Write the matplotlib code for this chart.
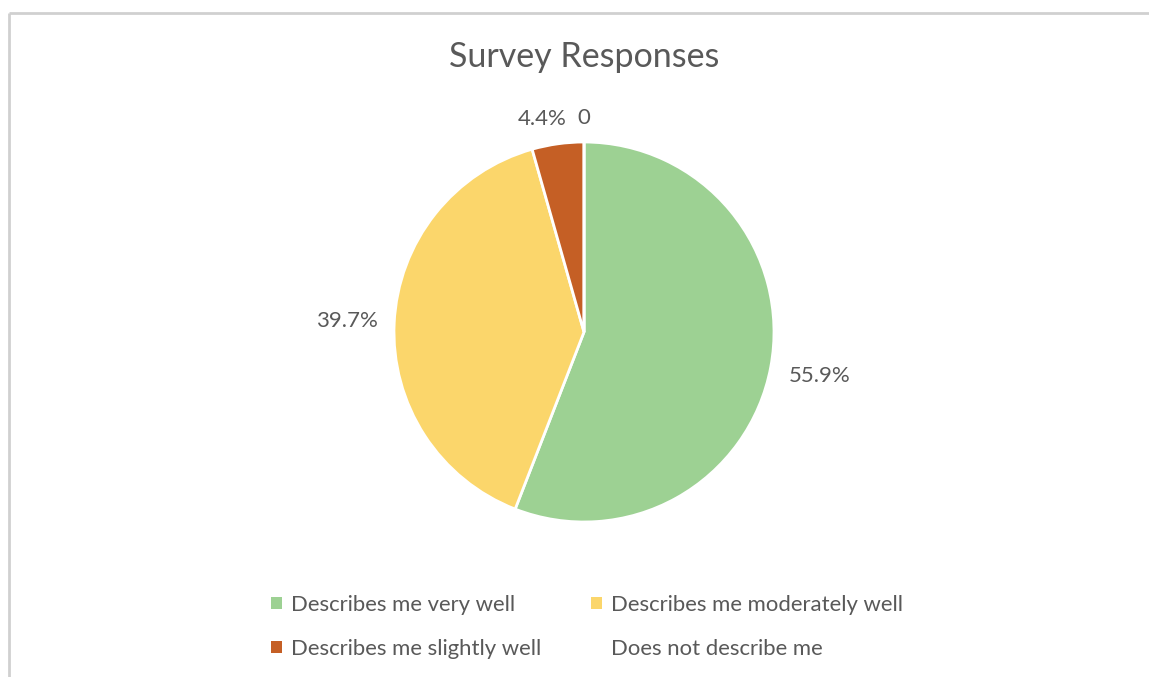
import matplotlib
matplotlib.use("Agg")
import matplotlib.pyplot as plt
from matplotlib.patches import Patch
from matplotlib.lines import Line2D
import numpy as np

categories = ["Describes me very well", "Describes me moderately well",
              "Describes me slightly well", "Does not describe me"]
values = [55.9, 39.7, 4.4, 0.0]
value_labels = ["55.9%", "39.7%", "4.4%", "0"]
colors = ["#9DD193", "#FBD66B", "#C55F25", "#FFFFFF"]
title = "Survey Responses"

plt.rcParams['font.family'] = ['Lato', 'DejaVu Sans']
text_color = "#595959"

W, H = 1149, 677
fig = plt.figure(figsize=(W / 100, H / 100), dpi=100)
fig.patch.set_facecolor("white")

# chart border (top and left visible, continues past the image edges)
by = 1 - 12.5 / H
bx = 8.5 / W
fig.lines.append(Line2D([bx, 1.0], [by, by], transform=fig.transFigure,
                        color="#D0D0D0", linewidth=2, solid_capstyle="butt"))
fig.lines.append(Line2D([bx, bx], [by, 0.0], transform=fig.transFigure,
                        color="#D0D0D0", linewidth=2, solid_capstyle="butt"))

cx, cy, r = 584, 332, 190
ax = fig.add_axes([(cx - r) / W, (H - cy - r) / H, 2 * r / W, 2 * r / H])
wedges, _ = ax.pie(values, colors=colors, startangle=90, counterclock=False,
                   radius=1.0, wedgeprops=dict(edgecolor="white", linewidth=2))
ax.set_xlim(-1, 1)
ax.set_ylim(-1, 1)
ax.set_aspect("auto")
ax.axis("off")

dists = [1.26, 1.25, 1.13, 1.125]
xshift = [0, 0, -0.065, 0]
for w, lab, d, sx in zip(wedges, value_labels, dists, xshift):
    ang = np.deg2rad((w.theta1 + w.theta2) / 2)
    x, y = d * np.cos(ang) + sx, d * np.sin(ang)
    ax.text(x, y, lab, ha="center", va="center", fontsize=16,
            color=text_color, clip_on=False)

fig.text(cx / W, 1 - 57 / H, title, ha="center", va="center",
         fontsize=24.5, color=text_color)

handles = [Patch(facecolor=c, edgecolor="none") for c in colors]
handles[3] = Patch(facecolor="none", edgecolor="none")
order = [0, 2, 1, 3]
leg = fig.legend([handles[i] for i in order], [categories[i] for i in order],
                 ncol=2, loc="center left", bbox_to_anchor=(271 / W, 1 - 627 / H),
                 frameon=False, fontsize=15.9, handlelength=0.48, handleheight=0.48,
                 handletextpad=0.42, columnspacing=2.26, labelspacing=1.1,
                 borderpad=0, borderaxespad=0, labelcolor=text_color)

fig.savefig("out.png", dpi=100, facecolor="white")
